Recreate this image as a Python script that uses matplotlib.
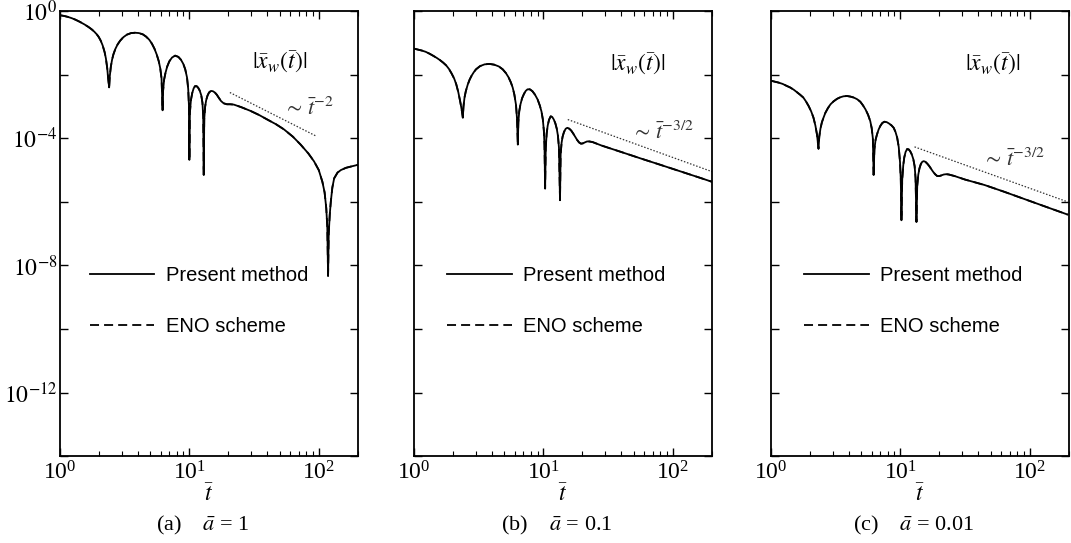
import numpy as np
import matplotlib
matplotlib.use('Agg')
import matplotlib.pyplot as plt
from matplotlib.ticker import NullLocator

plt.rcParams['font.family'] = 'serif'
plt.rcParams['font.serif'] = ['Liberation Serif', 'DejaVu Serif']
plt.rcParams['mathtext.fontset'] = 'stix'

# values, as log10(t) and log10|x_w|
logt_a = [0.0, 0.03, 0.06, 0.09, 0.12, 0.155, 0.19, 0.22, 0.245, 0.265, 0.285, 0.30, 0.315, 0.33, 0.345, 0.355, 0.365, 0.372, 0.38,
          0.385, 0.393, 0.403, 0.413, 0.428, 0.445, 0.465, 0.49, 0.517, 0.55, 0.58, 0.61, 0.64, 0.665, 0.69, 0.71,
          0.73, 0.748, 0.763, 0.775, 0.785, 0.793,
          0.797, 0.805, 0.815, 0.828, 0.845, 0.866, 0.89, 0.915, 0.935, 0.953, 0.968, 0.982, 0.991, 0.997, 1.0,
          1.004, 1.012, 1.022, 1.033, 1.044, 1.056, 1.068, 1.08, 1.092, 1.101, 1.107, 1.111,
          1.115, 1.122, 1.13, 1.14, 1.152, 1.167, 1.182, 1.197, 1.212, 1.228, 1.245, 1.265, 1.29, 1.315, 1.343,
          1.40, 1.473, 1.54, 1.602, 1.67, 1.731, 1.80, 1.86, 1.92, 1.964, 2.0, 2.028, 2.045, 2.058, 2.066, 2.072,
          2.077, 2.085, 2.093, 2.105, 2.119, 2.145, 2.171, 2.21, 2.248, 2.318]
logx_a = [-0.13, -0.15, -0.18, -0.22, -0.27, -0.34, -0.42, -0.498, -0.573, -0.645, -0.733, -0.817, -0.93, -1.08, -1.29, -1.49, -1.79, -2.10, -2.40,
          -2.05, -1.75, -1.52, -1.36, -1.19, -1.05, -0.93, -0.82, -0.74, -0.69, -0.68, -0.69, -0.73, -0.80, -0.90, -1.02,
          -1.18, -1.37, -1.57, -1.80, -2.12, -3.12,
          -2.50, -2.15, -1.95, -1.75, -1.58, -1.46, -1.40, -1.44, -1.53, -1.66, -1.83, -2.09, -2.45, -3.00, -4.68,
          -3.20, -2.80, -2.58, -2.43, -2.36, -2.36, -2.41, -2.50, -2.65, -2.88, -3.30, -5.15,
          -3.40, -3.00, -2.80, -2.66, -2.56, -2.51, -2.52, -2.56, -2.63, -2.73, -2.83, -2.90, -2.93, -2.93, -2.94,
          -3.02, -3.14, -3.27, -3.41, -3.56, -3.72, -3.95, -4.20, -4.48, -4.73, -5.00, -5.37, -5.70, -6.20, -6.80, -8.33,
          -7.00, -6.40, -6.00, -5.55, -5.26, -5.08, -5.00, -4.93, -4.89, -4.82]

logt_b = [0.0, 0.03, 0.06, 0.09, 0.12, 0.146, 0.175, 0.20, 0.225, 0.249, 0.27, 0.29, 0.31, 0.326, 0.342, 0.357, 0.368, 0.377,
          0.382, 0.39, 0.40, 0.415, 0.43, 0.445, 0.462, 0.479, 0.51, 0.545, 0.582, 0.62, 0.655, 0.685, 0.71, 0.73,
          0.748, 0.762, 0.775, 0.788, 0.796, 0.802,
          0.806, 0.813, 0.822, 0.835, 0.85, 0.863, 0.877, 0.895, 0.915, 0.935, 0.955, 0.972, 0.985, 0.995, 1.003, 1.008, 1.013,
          1.018, 1.025, 1.033, 1.043, 1.056, 1.068, 1.08, 1.092, 1.103, 1.112, 1.12, 1.128,
          1.133, 1.14, 1.148, 1.159, 1.172, 1.185, 1.20, 1.215, 1.23, 1.245, 1.26, 1.275, 1.29, 1.305, 1.32, 1.337, 1.354,
          1.38, 1.45, 1.60, 1.763, 1.90, 2.05, 2.20, 2.303]
logx_b = [-1.18, -1.21, -1.24, -1.28, -1.34, -1.40, -1.47, -1.54, -1.62, -1.71, -1.82, -1.96, -2.12, -2.30, -2.55, -2.85, -3.10, -3.35,
          -3.00, -2.72, -2.52, -2.31, -2.15, -2.03, -1.92, -1.83, -1.73, -1.675, -1.66, -1.685, -1.74, -1.83, -1.95, -2.08,
          -2.24, -2.40, -2.62, -2.95, -3.40, -4.20,
          -3.50, -3.15, -2.94, -2.74, -2.60, -2.51, -2.46, -2.46, -2.52, -2.63, -2.78, -2.97, -3.16, -3.40, -3.75, -4.20, -5.58,
          -4.30, -3.85, -3.60, -3.42, -3.31, -3.33, -3.41, -3.53, -3.70, -3.92, -4.30, -5.95,
          -4.50, -4.15, -3.95, -3.80, -3.70, -3.67, -3.70, -3.76, -3.85, -3.95, -4.05, -4.13, -4.17, -4.16, -4.13, -4.10, -4.10,
          -4.12, -4.23, -4.43, -4.65, -4.83, -5.03, -5.23, -5.37]

logt_c = [0.0, 0.03, 0.06, 0.09, 0.12, 0.147, 0.175, 0.20, 0.225, 0.25, 0.27, 0.29, 0.31, 0.328, 0.343, 0.356, 0.367,
          0.373, 0.382, 0.393, 0.405, 0.42, 0.44, 0.46, 0.483, 0.51, 0.535, 0.56, 0.587, 0.615, 0.64, 0.665, 0.69,
          0.71, 0.73, 0.75, 0.767, 0.778, 0.787, 0.793,
          0.799, 0.808, 0.819, 0.832, 0.845, 0.86, 0.876, 0.893, 0.91, 0.93, 0.948, 0.962, 0.975, 0.987, 0.997, 1.003, 1.008,
          1.014, 1.022, 1.03, 1.04, 1.052, 1.064, 1.076, 1.088, 1.10, 1.11, 1.117, 1.124,
          1.13, 1.138, 1.147, 1.158, 1.169, 1.18, 1.193, 1.208, 1.222, 1.237, 1.252, 1.268, 1.285, 1.30, 1.315, 1.335,
          1.355, 1.374, 1.42, 1.50, 1.65, 1.80, 1.95, 2.10, 2.292]
logx_c = [-2.19, -2.22, -2.25, -2.29, -2.35, -2.40, -2.47, -2.55, -2.63, -2.72, -2.84, -2.98, -3.15, -3.35, -3.60, -3.90, -4.33,
          -3.95, -3.70, -3.50, -3.36, -3.20, -3.05, -2.93, -2.84, -2.76, -2.71, -2.68, -2.67, -2.69, -2.72, -2.77, -2.85,
          -2.96, -3.09, -3.26, -3.46, -3.68, -4.00, -5.15,
          -4.35, -4.05, -3.88, -3.72, -3.61, -3.52, -3.48, -3.49, -3.53, -3.59, -3.67, -3.80, -3.98, -4.27, -4.75, -5.30, -6.58,
          -5.30, -4.85, -4.60, -4.43, -4.34, -4.35, -4.41, -4.51, -4.66, -4.88, -5.25, -6.63,
          -5.50, -5.15, -4.95, -4.81, -4.74, -4.72, -4.74, -4.80, -4.87, -4.96, -5.05, -5.13, -5.19, -5.19, -5.17, -5.14,
          -5.13, -5.14, -5.19, -5.30, -5.47, -5.68, -5.90, -6.12, -6.40]

# slope guide lines (end points)
guide_logt = [[1.313, 1.984], [1.188, 2.303], [1.109, 2.292]]
guide_logx = [[-2.56, -3.94], [-3.41, -5.05], [-4.27, -6.00]]
slope_labels = [r'$\sim\,\bar{t}^{-2}$', r'$\sim\,\bar{t}^{-3/2}$', r'$\sim\,\bar{t}^{-3/2}$']

captions = [r'(a)    $\bar{a}$ = 1', r'(b)    $\bar{a}$ = 0.1', r'(c)    $\bar{a}$ = 0.01']

curves_t = [logt_a, logt_b, logt_c]
curves_x = [logx_a, logx_b, logx_c]

# layout
lefts = [0.056, 0.3866, 0.7199]
bottom, width, height = 0.160, 0.278, 0.8195
leg_x = [0.101, 0.111, 0.111]
slope_pos = [(1.72, -3.08), (1.675, -3.84), (1.63, -4.69)]
title_pos = [(1.70, -1.62), (1.73, -1.68), (1.71, -1.68)]

fig = plt.figure(figsize=(10.71, 5.43), dpi=100)

for i in range(3):
    ax = fig.add_axes([lefts[i], bottom, width, height])
    t = 10.0 ** np.array(curves_t[i])
    x = 10.0 ** np.array(curves_x[i])
    ax.plot(t, x, color='black', lw=1.3, label='Present method')
    ax.plot(t, x, color='black', lw=1.3, ls=(0, (5.0, 2.8)), label='ENO scheme')
    ax.plot(10.0 ** np.array(guide_logt[i]), 10.0 ** np.array(guide_logx[i]),
            color='#333333', lw=0.9, ls=(0, (1.2, 1.4)))

    ax.set_xscale('log')
    ax.set_yscale('log')
    ax.set_xlim(1, 200)
    ax.set_ylim(1e-14, 1)

    yt = [10.0 ** k for k in range(0, -15, -2)]
    ax.set_yticks(yt)
    ax.set_yticklabels([r'$10^{%d}$' % k if k % 4 == 0 else '' for k in range(0, -15, -2)])
    ax.yaxis.set_minor_locator(NullLocator())

    ax.tick_params(which='both', direction='in', top=True, right=True, labelsize=17)
    ax.tick_params(which='major', length=6, width=1.0)
    ax.tick_params(which='minor', length=3.5, width=0.8)
    ax.tick_params(axis='x', pad=4)
    ax.tick_params(axis='y', pad=2)
    if i > 0:
        ax.tick_params(labelleft=False)
    for s in ax.spines.values():
        s.set_linewidth(1.3)

    ax.text(10 ** title_pos[i][0], 10 ** title_pos[i][1], r'$|\bar{x}_w(\bar{t})|$',
            ha='center', va='center', fontsize=17)
    ax.text(10 ** slope_pos[i][0], 10 ** slope_pos[i][1], slope_labels[i],
            ha='left', va='center', fontsize=16, color='#333333')

    ax.legend(loc='upper left', bbox_to_anchor=(leg_x[i], 0.428), frameon=False,
              borderpad=0, borderaxespad=0, handlelength=3.2, handletextpad=0.55,
              labelspacing=1.6, prop={'family': 'Liberation Sans', 'size': 14.5})

    ax.set_xlabel(r'$\bar{t}$', fontsize=17)
    ax.xaxis.set_label_coords(0.5, -0.088)
    ax.xaxis.label.set_va('center')
    ax.text(0.48, -0.157, captions[i], transform=ax.transAxes,
            ha='center', va='center', fontsize=16)

fig.savefig('out.png', dpi=100)
